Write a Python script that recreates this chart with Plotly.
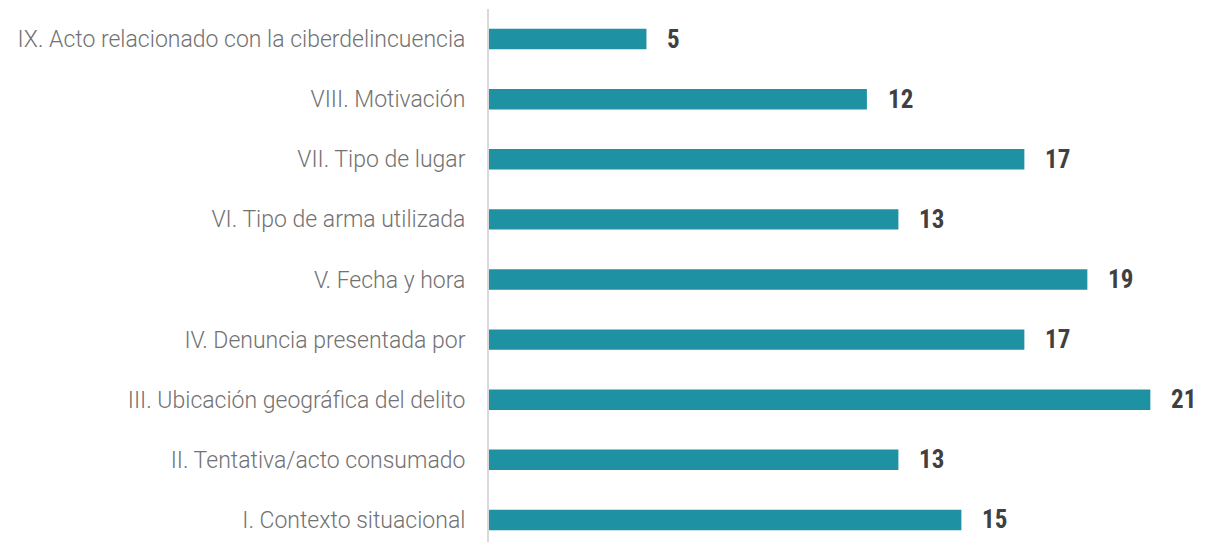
import plotly.graph_objects as go

BAR_COLOR = "#1e91a3"
LABEL_FONT = dict(family="Roboto Light, Roboto", size=23, color="#727272", weight=300)
VALUE_FONT = dict(family="Roboto Condensed, Roboto", size=25, color="#404040", weight=700)

categories = [
    "I. Contexto situacional",
    "II. Tentativa/acto consumado",
    "III. Ubicación geográfica del delito",
    "IV. Denuncia presentada por",
    "V. Fecha y hora",
    "VI. Tipo de arma utilizada",
    "VII. Tipo de lugar",
    "VIII. Motivación",
    "IX. Acto relacionado con la ciberdelincuencia",
]
values = [15, 13, 21, 17, 19, 13, 17, 12, 5]

fig = go.Figure(
    go.Bar(
        x=values,
        y=categories,
        orientation="h",
        marker=dict(color=BAR_COLOR, line=dict(width=0)),
        width=0.34,
        hoverinfo="x+y",
    )
)

for cat, val in zip(categories, values):
    fig.add_annotation(
        x=val,
        y=cat,
        text=str(val),
        showarrow=False,
        xanchor="left",
        xshift=19,
        font=VALUE_FONT,
    )

fig.update_layout(
    width=1208,
    height=542,
    paper_bgcolor="white",
    plot_bgcolor="white",
    showlegend=False,
    margin=dict(t=1, b=0, l=481, r=20, pad=0),
    xaxis=dict(
        range=[0, 22.45],
        showgrid=False,
        zeroline=False,
        showticklabels=False,
        showline=False,
    ),
    yaxis=dict(
        range=[-0.5, 8.5],
        showgrid=False,
        zeroline=False,
        showline=True,
        linecolor="#d9d9d9",
        linewidth=2,
        ticks="",
        tickfont=LABEL_FONT,
        ticklabelstandoff=17,
    ),
)

fig.write_html("out.html")
